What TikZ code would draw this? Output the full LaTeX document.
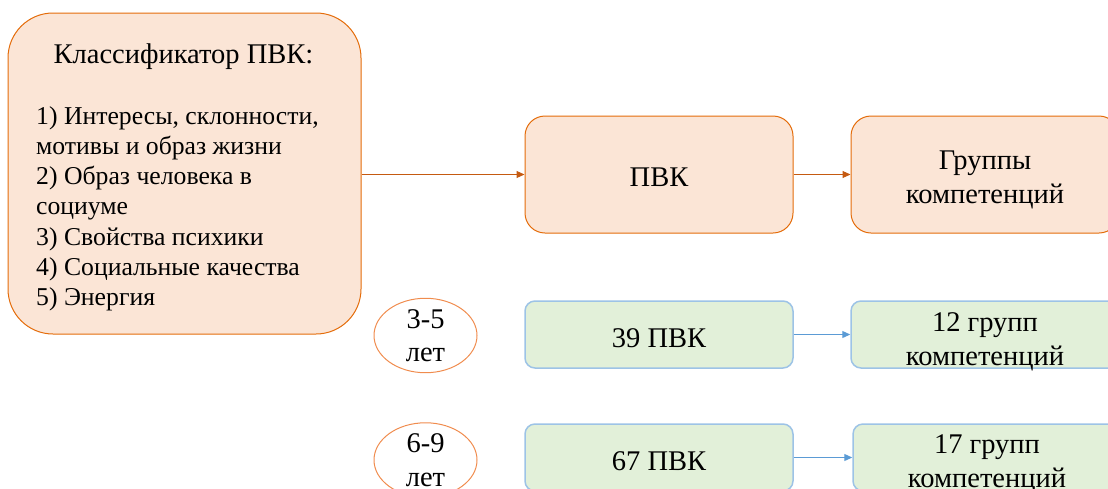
\documentclass[tikz,border=0pt]{standalone}
\usepackage{fontspec}
\setmainfont{Liberation Serif}
\usetikzlibrary{arrows.meta,shapes.geometric}
\definecolor{peach}{HTML}{FBE5D6}
\definecolor{orangeline}{HTML}{E46C0A}
\definecolor{orangearrow}{HTML}{C55A11}
\definecolor{ellline}{HTML}{F08C4E}
\definecolor{greenfill}{HTML}{E2F0D9}
\definecolor{blueline}{HTML}{9DC3E6}
\definecolor{bluearrow}{HTML}{5B9BD5}
\begin{document}
\begin{tikzpicture}[x=1pt,y=-1pt,line join=round,
    peachbox/.style={draw=orangeline,fill=peach,line width=1pt,rounded corners=20pt,
      minimum width=268pt,minimum height=117pt,align=center,inner xsep=0pt,inner ysep=-6pt,
      font=\fontsize{28.5}{34}\selectfont,execute at begin node={\rule{0pt}{24pt}}},
    greenbox/.style={draw=blueline,fill=greenfill,line width=1.5pt,rounded corners=10pt,
      minimum width=268pt,minimum height=67pt,align=center,inner xsep=0pt,inner ysep=-6pt,
      font=\fontsize{28.5}{33.5}\selectfont,execute at begin node={\rule{0pt}{27pt}}},
    agebox/.style={ellipse,draw=ellline,line width=1pt,minimum width=103pt,
      minimum height=73pt,align=center,inner sep=0pt,
      font=\fontsize{28.5}{33.5}\selectfont},
    orangeto/.style={draw=orangearrow,line width=1pt,-{Triangle[length=8pt,width=7pt]}},
    blueto/.style={draw=bluearrow,line width=1.2pt,-{Triangle[length=8pt,width=7pt]}}]
  \useasboundingbox (0,0) rectangle (1108,488);
  \node (klass) [draw=orangeline,fill=peach,line width=1pt,rounded corners=45pt,
      minimum width=353pt,minimum height=321pt] at (184.5,173.5) {};
  \node (klasstitle) [anchor=base,inner sep=0pt,font=\fontsize{28.5}{34}\selectfont]
    at (183.5,63.5) {Классификатор ПВК:};
  \node (klasslist) [anchor=north west,inner sep=0pt,align=left,
      font=\fontsize{25.7}{30.2}\selectfont] at (36,104)
    {\rule{0pt}{20pt}1) Интересы, склонности,\\ мотивы и образ жизни\\ 2) Образ человека в\\ социуме\\
     3) Свойства психики\\ 4) Социальные качества\\ 5) Энергия};
  \node (pvk) [peachbox] at (659,174.5) {ПВК};
  \node (groups) [peachbox] at (985,174.5) {\rule{0pt}{29pt}Группы\\ компетенций};
  % 3-5 years
  \node (age1) [agebox] at (425.5,335.5) {3-5\\ лет};
  \node (pvk1) [greenbox] at (659,334.5) {39 ПВК};
  \node (groups1) [greenbox] at (985,334.5) {\rule{0pt}{33pt}12 групп\\ компетенций};
  % 6-9 years
  \node (age2) [agebox] at (425.5,460) {6-9\\ лет};
  \node (pvk2) [greenbox] at (659,457.5) {67 ПВК};
  \node (groups2) [greenbox] at (987,457.5) {\rule{0pt}{31pt}17 групп\\ компетенций};
  \draw [orangeto] (klass.east |- pvk) -- (pvk);
  \draw [orangeto] (pvk) -- (groups);
  \draw [blueto] (pvk1) -- (groups1);
  \draw [blueto] (pvk2) -- (groups2);
\end{tikzpicture}
\end{document}
